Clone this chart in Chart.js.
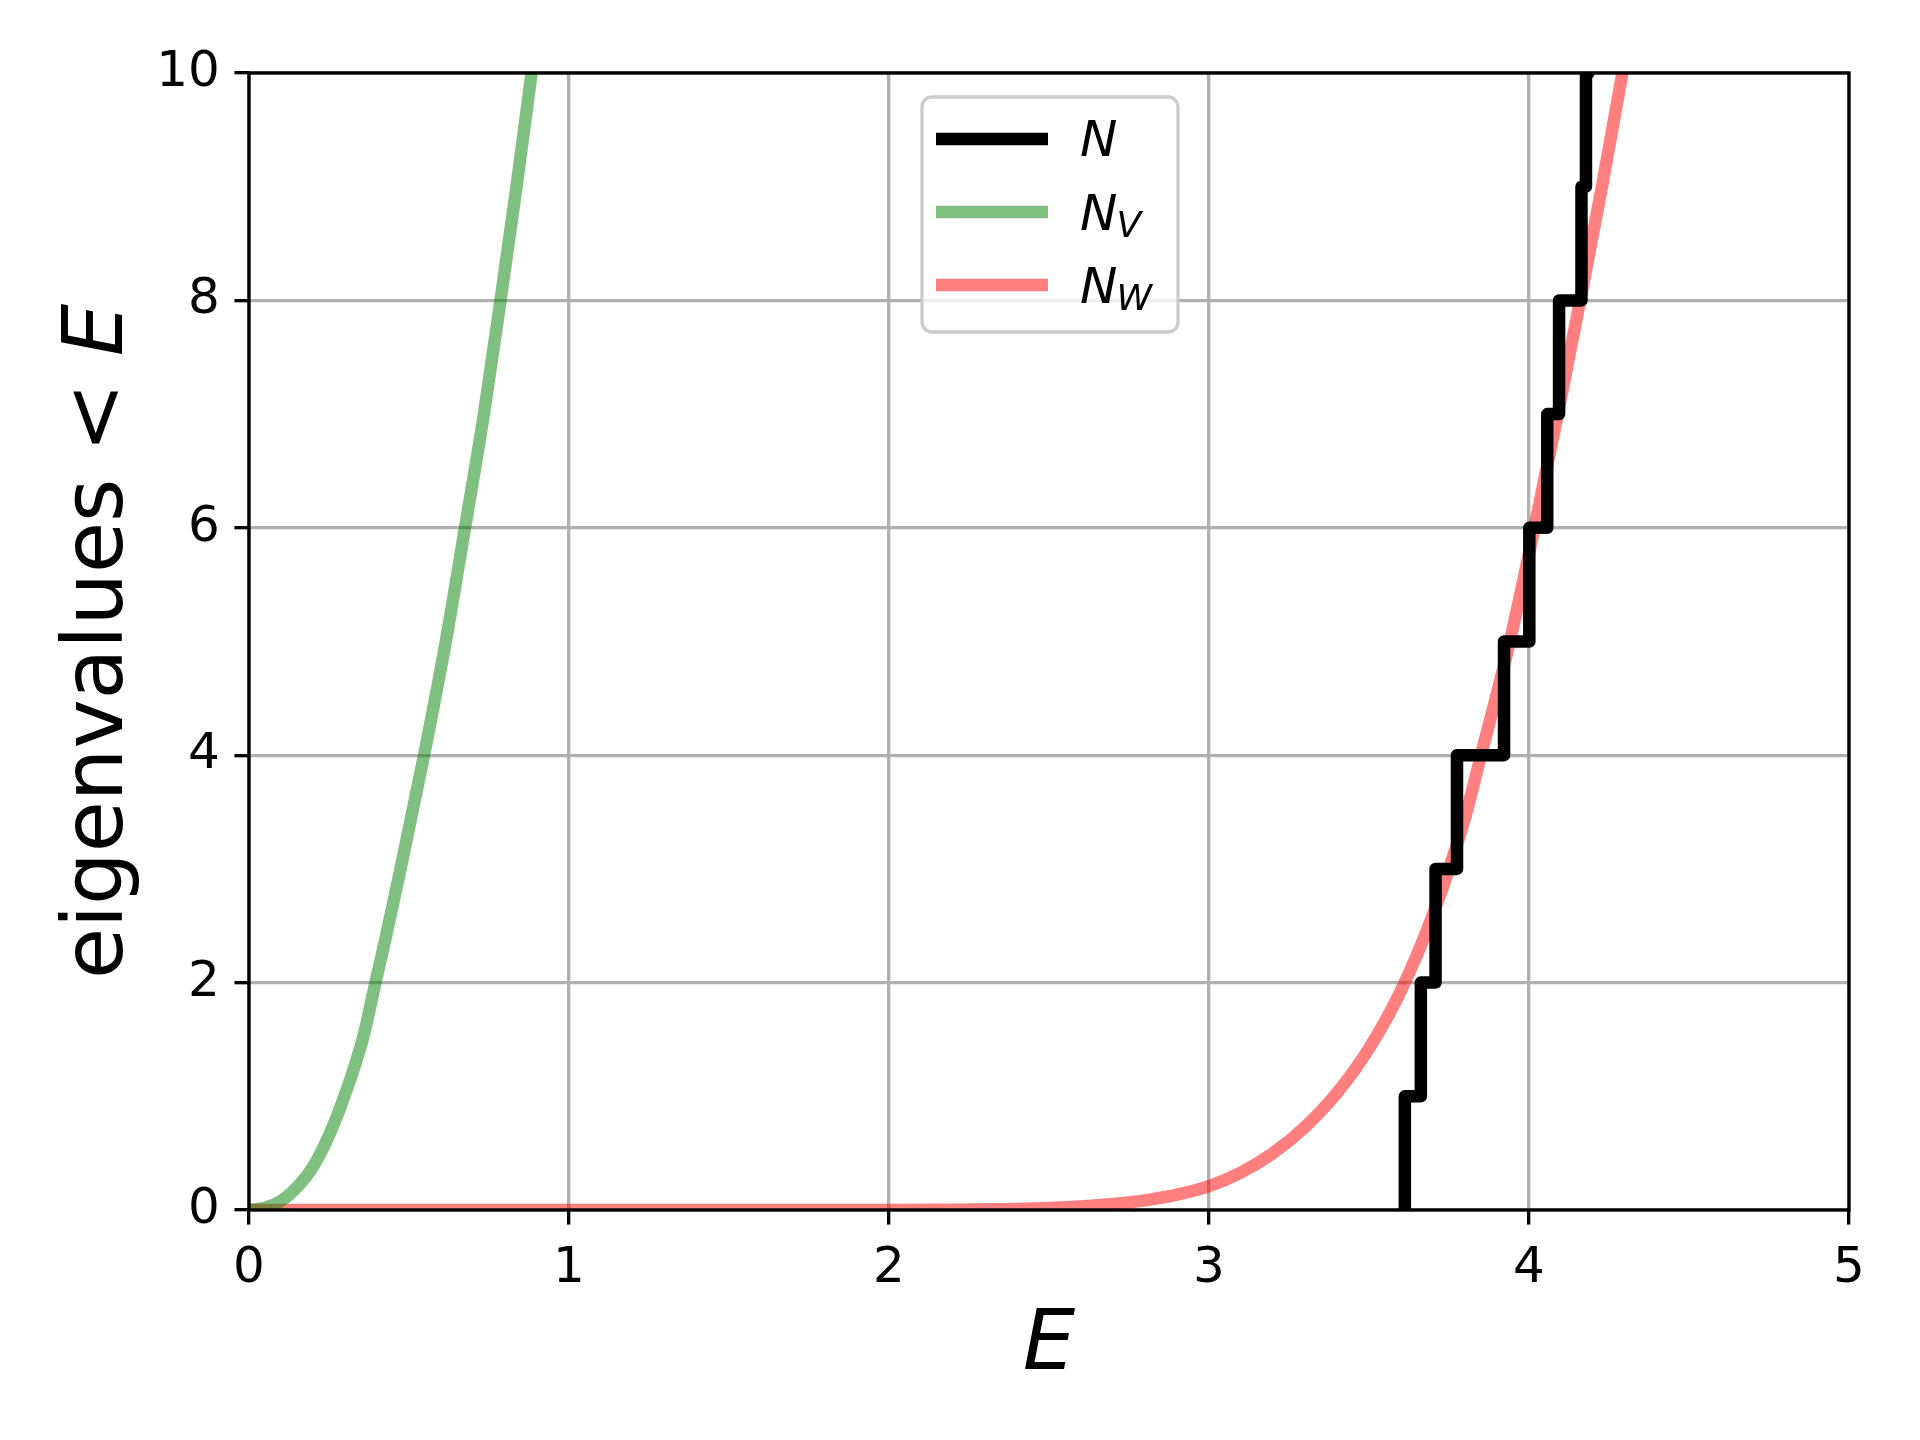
<!DOCTYPE html>
<html>
<head>
<meta charset="utf-8">
<script src="https://cdn.jsdelivr.net/npm/chart.js@4.4.1/dist/chart.umd.min.js"></script>
<style>
  html, body { margin: 0; padding: 0; background: #fff; }
  #wrap { width: 1920px; height: 1440px; }
</style>
</head>
<body>
<div id="wrap"><canvas id="chart" width="1920" height="1440"></canvas></div>
<script>
// --- Data ---
const eigenvalues = [3.612, 3.662, 3.708, 3.775, 3.922, 4.001, 4.057, 4.094, 4.164, 4.178, 4.186];

const vE = [0, 0.05, 0.1, 0.15, 0.2, 0.253, 0.305, 0.357, 0.394, 0.43, 0.472, 0.547, 0.615, 0.675, 0.734, 0.786, 0.836, 0.883, 0.93];
const vN = [0, 0.02, 0.08, 0.2, 0.38, 0.675, 1.055, 1.52, 1.985, 2.43, 2.98, 4.0, 5.0, 6.0, 7.0, 8.0, 9.0, 10.0, 11.0];

const wE = [0, 1.5, 2.0, 2.2, 2.4, 2.5, 2.6, 2.7, 2.8, 2.9, 3.0, 3.1, 3.2, 3.3, 3.4, 3.5, 3.6, 3.7, 3.8, 3.85, 3.94, 4.017, 4.09, 4.16, 4.228, 4.292, 4.35];
const wN = [0, 0, 0.0005, 0.002, 0.009, 0.017, 0.03, 0.052, 0.085, 0.135, 0.21, 0.33, 0.5, 0.73, 1.03, 1.42, 1.93, 2.6, 3.45, 4.0, 5.0, 6.0, 7.0, 8.0, 9.0, 10.0, 11.0];

const xTicks = [0, 1, 2, 3, 4, 5];
const yTicks = [0, 2, 4, 6, 8, 10];

// --- Styles (matplotlib look, 300 dpi) ---
const PT = 300 / 72;
const FONT = '"DejaVu Sans", "Liberation Sans", sans-serif';
const LW = 3 * PT;

// N(E): one step up at each eigenvalue
const countPoints = [{ x: eigenvalues[0], y: 0 }].concat(eigenvalues.map((e, i) => ({ x: e, y: i + 1 })));
const toPts = (xs, ys) => xs.map((x, i) => ({ x: x, y: ys[i] }));

// --- Spines, axis labels and legend ---
const frame = {
  id: 'frame',
  afterDatasetsDraw(chart) {
    const { ctx, chartArea: a } = chart;
    ctx.save();
    ctx.strokeStyle = '#000';
    ctx.lineWidth = 0.8 * PT;
    ctx.strokeRect(a.left, a.top, a.right - a.left, a.bottom - a.top);
    ctx.restore();
  },
  afterDraw(chart) {
    const { ctx, chartArea: a } = chart;
    ctx.save();
    ctx.fillStyle = '#000';

    // x label
    ctx.font = 'italic 83px ' + FONT;
    ctx.textAlign = 'center';
    ctx.textBaseline = 'alphabetic';
    ctx.fillText('E', (a.left + a.right) / 2, 1369);

    // y label: "eigenvalues < E"
    ctx.save();
    ctx.translate(122, (a.top + a.bottom) / 2);
    ctx.rotate(-Math.PI / 2);
    ctx.textAlign = 'left';
    ctx.font = '83px ' + FONT;
    const part1 = 'eigenvalues < ';
    const w1 = ctx.measureText(part1).width;
    ctx.font = 'italic 83px ' + FONT;
    const w2 = ctx.measureText('E').width;
    const x0 = -(w1 + w2) / 2;
    ctx.font = '83px ' + FONT;
    ctx.fillText(part1, x0, 0);
    ctx.font = 'italic 83px ' + FONT;
    ctx.fillText('E', x0 + w1, 0);
    ctx.restore();

    // legend
    const bx = 922, by = 97, bw = 256, bh = 235;
    ctx.beginPath();
    ctx.roundRect(bx, by, bw, bh, 10);
    ctx.fillStyle = 'rgba(255,255,255,0.8)';
    ctx.fill();
    ctx.lineWidth = 3.3;
    ctx.strokeStyle = '#cccccc';
    ctx.stroke();

    const rows = [
      { y: 139, base: 156, sub: '' },
      { y: 212, base: 230, sub: 'V' },
      { y: 285, base: 303, sub: 'W' }
    ];
    chart.data.datasets.forEach((ds, i) => {
      const r = rows[i];
      ctx.beginPath();
      ctx.moveTo(936, r.y);
      ctx.lineTo(1048, r.y);
      ctx.lineWidth = LW;
      ctx.lineCap = 'butt';
      ctx.strokeStyle = ds.borderColor;
      ctx.stroke();

      ctx.fillStyle = '#000';
      ctx.textAlign = 'left';
      ctx.font = 'italic 50px ' + FONT;
      ctx.fillText('N', 1080, r.base);
      if (r.sub) {
        const wn = ctx.measureText('N').width;
        ctx.font = 'italic 36px ' + FONT;
        ctx.fillText(r.sub, 1080 + wn - 1, r.base + 7);
      }
    });
    ctx.restore();
  }
};

new Chart(document.getElementById('chart'), {
  type: 'line',
  data: {
    datasets: [
      {
        label: 'N',
        data: countPoints,
        borderColor: '#000000',
        borderWidth: LW,
        stepped: 'before',
        borderJoinStyle: 'round',
        pointRadius: 0,
        fill: false
      },
      {
        label: 'N_V',
        data: toPts(vE, vN),
        borderColor: 'rgba(0,128,0,0.5)',
        borderWidth: LW,
        cubicInterpolationMode: 'monotone',
        borderJoinStyle: 'round',
        pointRadius: 0,
        fill: false
      },
      {
        label: 'N_W',
        data: toPts(wE, wN),
        borderColor: 'rgba(255,0,0,0.5)',
        borderWidth: LW,
        cubicInterpolationMode: 'monotone',
        borderJoinStyle: 'round',
        pointRadius: 0,
        fill: false
      }
    ]
  },
  options: {
    responsive: false,
    animation: false,
    devicePixelRatio: 1,
    layout: { padding: { left: 0, top: 73, right: 71, bottom: 0 } },
    plugins: { legend: { display: false }, tooltip: { enabled: false } },
    scales: {
      x: {
        type: 'linear',
        min: 0,
        max: 5,
        afterFit: (s) => { s.height = 230; },
        afterBuildTicks: (s) => { s.ticks = xTicks.map(v => ({ value: v })); },
        grid: {
          color: '#b0b0b0',
          lineWidth: 0.8 * PT,
          tickColor: '#000',
          tickWidth: 0.8 * PT,
          tickLength: 3.5 * PT
        },
        border: { display: false },
        ticks: {
          color: '#000',
          padding: 3.5 * PT,
          maxRotation: 0,
          font: { family: FONT, size: 50 }
        }
      },
      y: {
        type: 'linear',
        min: 0,
        max: 10,
        afterFit: (s) => { s.width = 249; },
        afterBuildTicks: (s) => { s.ticks = yTicks.map(v => ({ value: v })); },
        grid: {
          color: '#b0b0b0',
          lineWidth: 0.8 * PT,
          tickColor: '#000',
          tickWidth: 0.8 * PT,
          tickLength: 3.5 * PT
        },
        border: { display: false },
        ticks: {
          color: '#000',
          padding: 3.5 * PT,
          font: { family: FONT, size: 50 }
        }
      }
    }
  },
  plugins: [frame]
});
</script>
</body>
</html>
